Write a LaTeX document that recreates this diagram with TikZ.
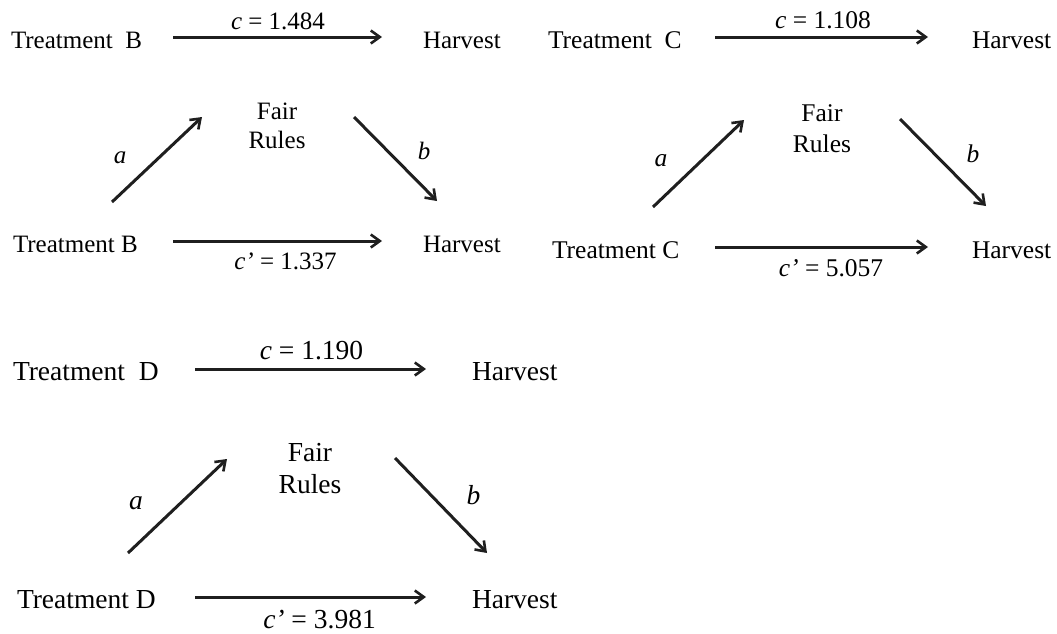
\documentclass[tikz,border=0pt]{standalone}
\usepackage{fontspec}
\setmainfont{Liberation Serif}
\usetikzlibrary{arrows.meta}

\begin{document}
\begin{tikzpicture}[x=1pt, y=-1pt,
  txt/.style={inner sep=0pt, outer sep=0pt, anchor=base west, text=black},
  lbl/.style={inner sep=0pt, outer sep=0pt, anchor=base, text=black},
  mid/.style={inner sep=0pt, outer sep=0pt, anchor=base, align=center, text=black},
  arr/.style={draw=black!88, line width=3pt,
    -{Straight Barb[length=9pt, width=13pt, line width=2.6pt]}},
  fB/.style={font=\fontsize{25}{29}\selectfont},
  fC/.style={font=\fontsize{25.5}{31}\selectfont},
  fD/.style={font=\fontsize{27.5}{32}\selectfont}]
\useasboundingbox (0,0) rectangle (1057,633);

% ---------- Treatment B ----------
\begin{scope}[every node/.append style={fB}]
  \node[txt] (tB1) at (11,48) {Treatment\ \ B};
  \node[txt] (hB1) at (423,48) {Harvest};
  \node[mid] (frB) at (277,148) {Fair\\Rules};
  \node[txt] (tB2) at (13,252) {Treatment B};
  \node[txt] (hB2) at (423,252) {Harvest};
  \node[lbl] (cB)  at (278,29) {\textit{c} = 1.484};
  \node[lbl] (aB)  at (120,163) {\textit{a}};
  \node[lbl] (bB)  at (424,159) {\textit{b}};
  \node[lbl] (cpB) at (285.5,269) {\textit{c’} = 1.337};
\end{scope}
\draw[arr] ([shift={(162,-11)}]tB1.base west) -- ([shift={(-41,-11)}]hB1.base west);
\draw[arr] ([shift={(99,-50)}]tB2.base west) -- ([shift={(-75,-31)}]frB.base);
\draw[arr] ([shift={(77,-31)}]frB.base) -- ([shift={(14,-51)}]hB2.base west);
\draw[arr] ([shift={(160,-11)}]tB2.base west) -- ([shift={(-41,-11)}]hB2.base west);

% ---------- Treatment C ----------
\begin{scope}[every node/.append style={fC}]
  \node[txt] (tC1) at (548,48) {Treatment\ \ C};
  \node[txt] (hC1) at (972,48) {Harvest};
  \node[mid] (frC) at (822,152) {Fair\\Rules};
  \node[txt] (tC2) at (552,258) {Treatment C};
  \node[txt] (hC2) at (972,258) {Harvest};
  \node[lbl] (cC)  at (823,28) {\textit{c} = 1.108};
  \node[lbl] (aC)  at (661,166) {\textit{a}};
  \node[lbl] (bC)  at (973,162) {\textit{b}};
  \node[lbl] (cpC) at (831,276) {\textit{c’} = 5.057};
\end{scope}
\draw[arr] ([shift={(167,-11)}]tC1.base west) -- ([shift={(-44,-11)}]hC1.base west);
\draw[arr] ([shift={(101,-51)}]tC2.base west) -- ([shift={(-78,-32)}]frC.base);
\draw[arr] ([shift={(78,-33)}]frC.base) -- ([shift={(14,-52)}]hC2.base west);
\draw[arr] ([shift={(163,-11)}]tC2.base west) -- ([shift={(-44,-11)}]hC2.base west);

% ---------- Treatment D ----------
\begin{scope}[every node/.append style={fD}]
  \node[txt] (tD1) at (13,380) {Treatment\ \ D};
  \node[txt] (hD1) at (472,380) {Harvest};
  \node[mid] (frD) at (310,493) {Fair\\Rules};
  \node[txt] (tD2) at (17,608) {Treatment D};
  \node[txt] (hD2) at (472,608) {Harvest};
  \node[lbl] (cD)  at (311.5,359) {\textit{c} = 1.190};
  \node[lbl] (aD)  at (136,509) {\textit{a}};
  \node[lbl] (bD)  at (473.5,504) {\textit{b}};
  \node[lbl] (cpD) at (319.5,628) {\textit{c’} = 3.981};
\end{scope}
\draw[arr] ([shift={(182,-11)}]tD1.base west) -- ([shift={(-46,-11)}]hD1.base west);
\draw[arr] ([shift={(111,-55)}]tD2.base west) -- ([shift={(-83,-34)}]frD.base);
\draw[arr] ([shift={(85,-35)}]frD.base) -- ([shift={(15,-55)}]hD2.base west);
\draw[arr] ([shift={(178,-11)}]tD2.base west) -- ([shift={(-46,-11)}]hD2.base west);
\end{tikzpicture}
\end{document}
